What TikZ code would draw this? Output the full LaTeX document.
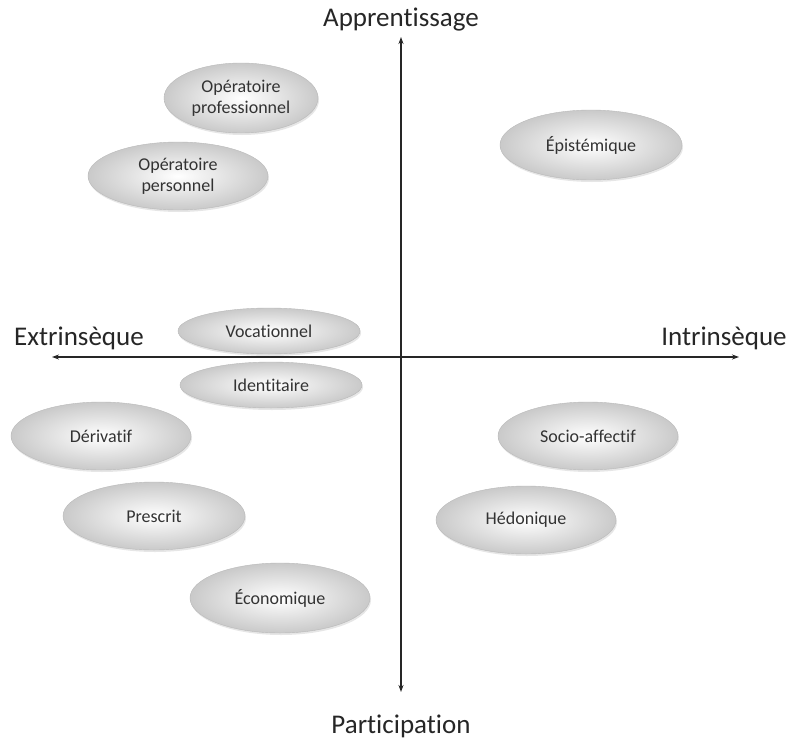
\documentclass[tikz,border=0pt]{standalone}
\usepackage{fontspec}
\setmainfont{Carlito}[Ligatures=NoCommon]
\usetikzlibrary{shapes.geometric,shadows,arrows.meta}

\tikzset{
  motif/.style={ellipse, minimum width=#1, minimum height=46pt, inner sep=0pt,
    align=center, font=\fontsize{18}{21}\selectfont, text=black!80,
    draw=gray!55, line width=0.4pt, shading=radial, inner color=white,
    outer color=gray!42, drop shadow={shadow xshift=1pt, shadow yshift=-2pt, opacity=0.2}},
  motif/.default=180pt,
  axe/.style={line width=1.1pt, draw=black!85, -{Stealth[length=7pt, width=5pt]}},
  axelabel/.style={font=\fontsize{27}{30}\selectfont, text=black!85}
}

\begin{document}
\begin{tikzpicture}[x=1pt, y=-1pt]
    \useasboundingbox (0,0) rectangle (788,745);

    % axes
    \coordinate (o) at (401, 357);
    \coordinate (haut) at (401, 37);
    \coordinate (bas) at (401, 692);
    \coordinate (gauche) at (52, 357);
    \coordinate (droite) at (739, 357);
    \draw[axe] (o) -- (haut);
    \draw[axe] (o) -- (bas);
    \draw[axe] (o) -- (gauche);
    \draw[axe] (o) -- (droite);

    \node[axelabel] (appr) at (401, 20) {Apprentissage};
    \node[axelabel] (part) at (401, 726) {Participation};
    \node[axelabel] (extr) at (79, 338) {Extrinsèque};
    \node[axelabel] (intr) at (724, 338) {Intrinsèque};

    % motifs, quadrant gauche
    \node[motif=154pt, minimum height=70pt] (oprof) at (241, 98) {Opératoire\\professionnel};
    \node[motif, minimum height=68pt] (opers) at (178, 176) {Opératoire\\personnel};
    \node[motif=182pt] (voc) at (269, 331) {Vocationnel};
    \node[motif=182pt] (ident) at (271, 385) {Identitaire};
    \node[motif, minimum height=68pt] (deriv) at (101, 436) {Dérivatif};
    \node[motif=182pt, minimum height=68pt] (presc) at (154, 516) {Prescrit};
    \node[motif, minimum height=70pt] (econ) at (280, 598) {Économique};

    % motifs, quadrant droit
    \node[motif=182pt, minimum height=70pt] (epist) at (591, 145) {Épistémique};
    \node[motif, minimum height=68pt] (socio) at (588, 436) {Socio-affectif};
    \node[motif, minimum height=68pt] (hedon) at (526, 520) {Hédonique};
\end{tikzpicture}
\end{document}
